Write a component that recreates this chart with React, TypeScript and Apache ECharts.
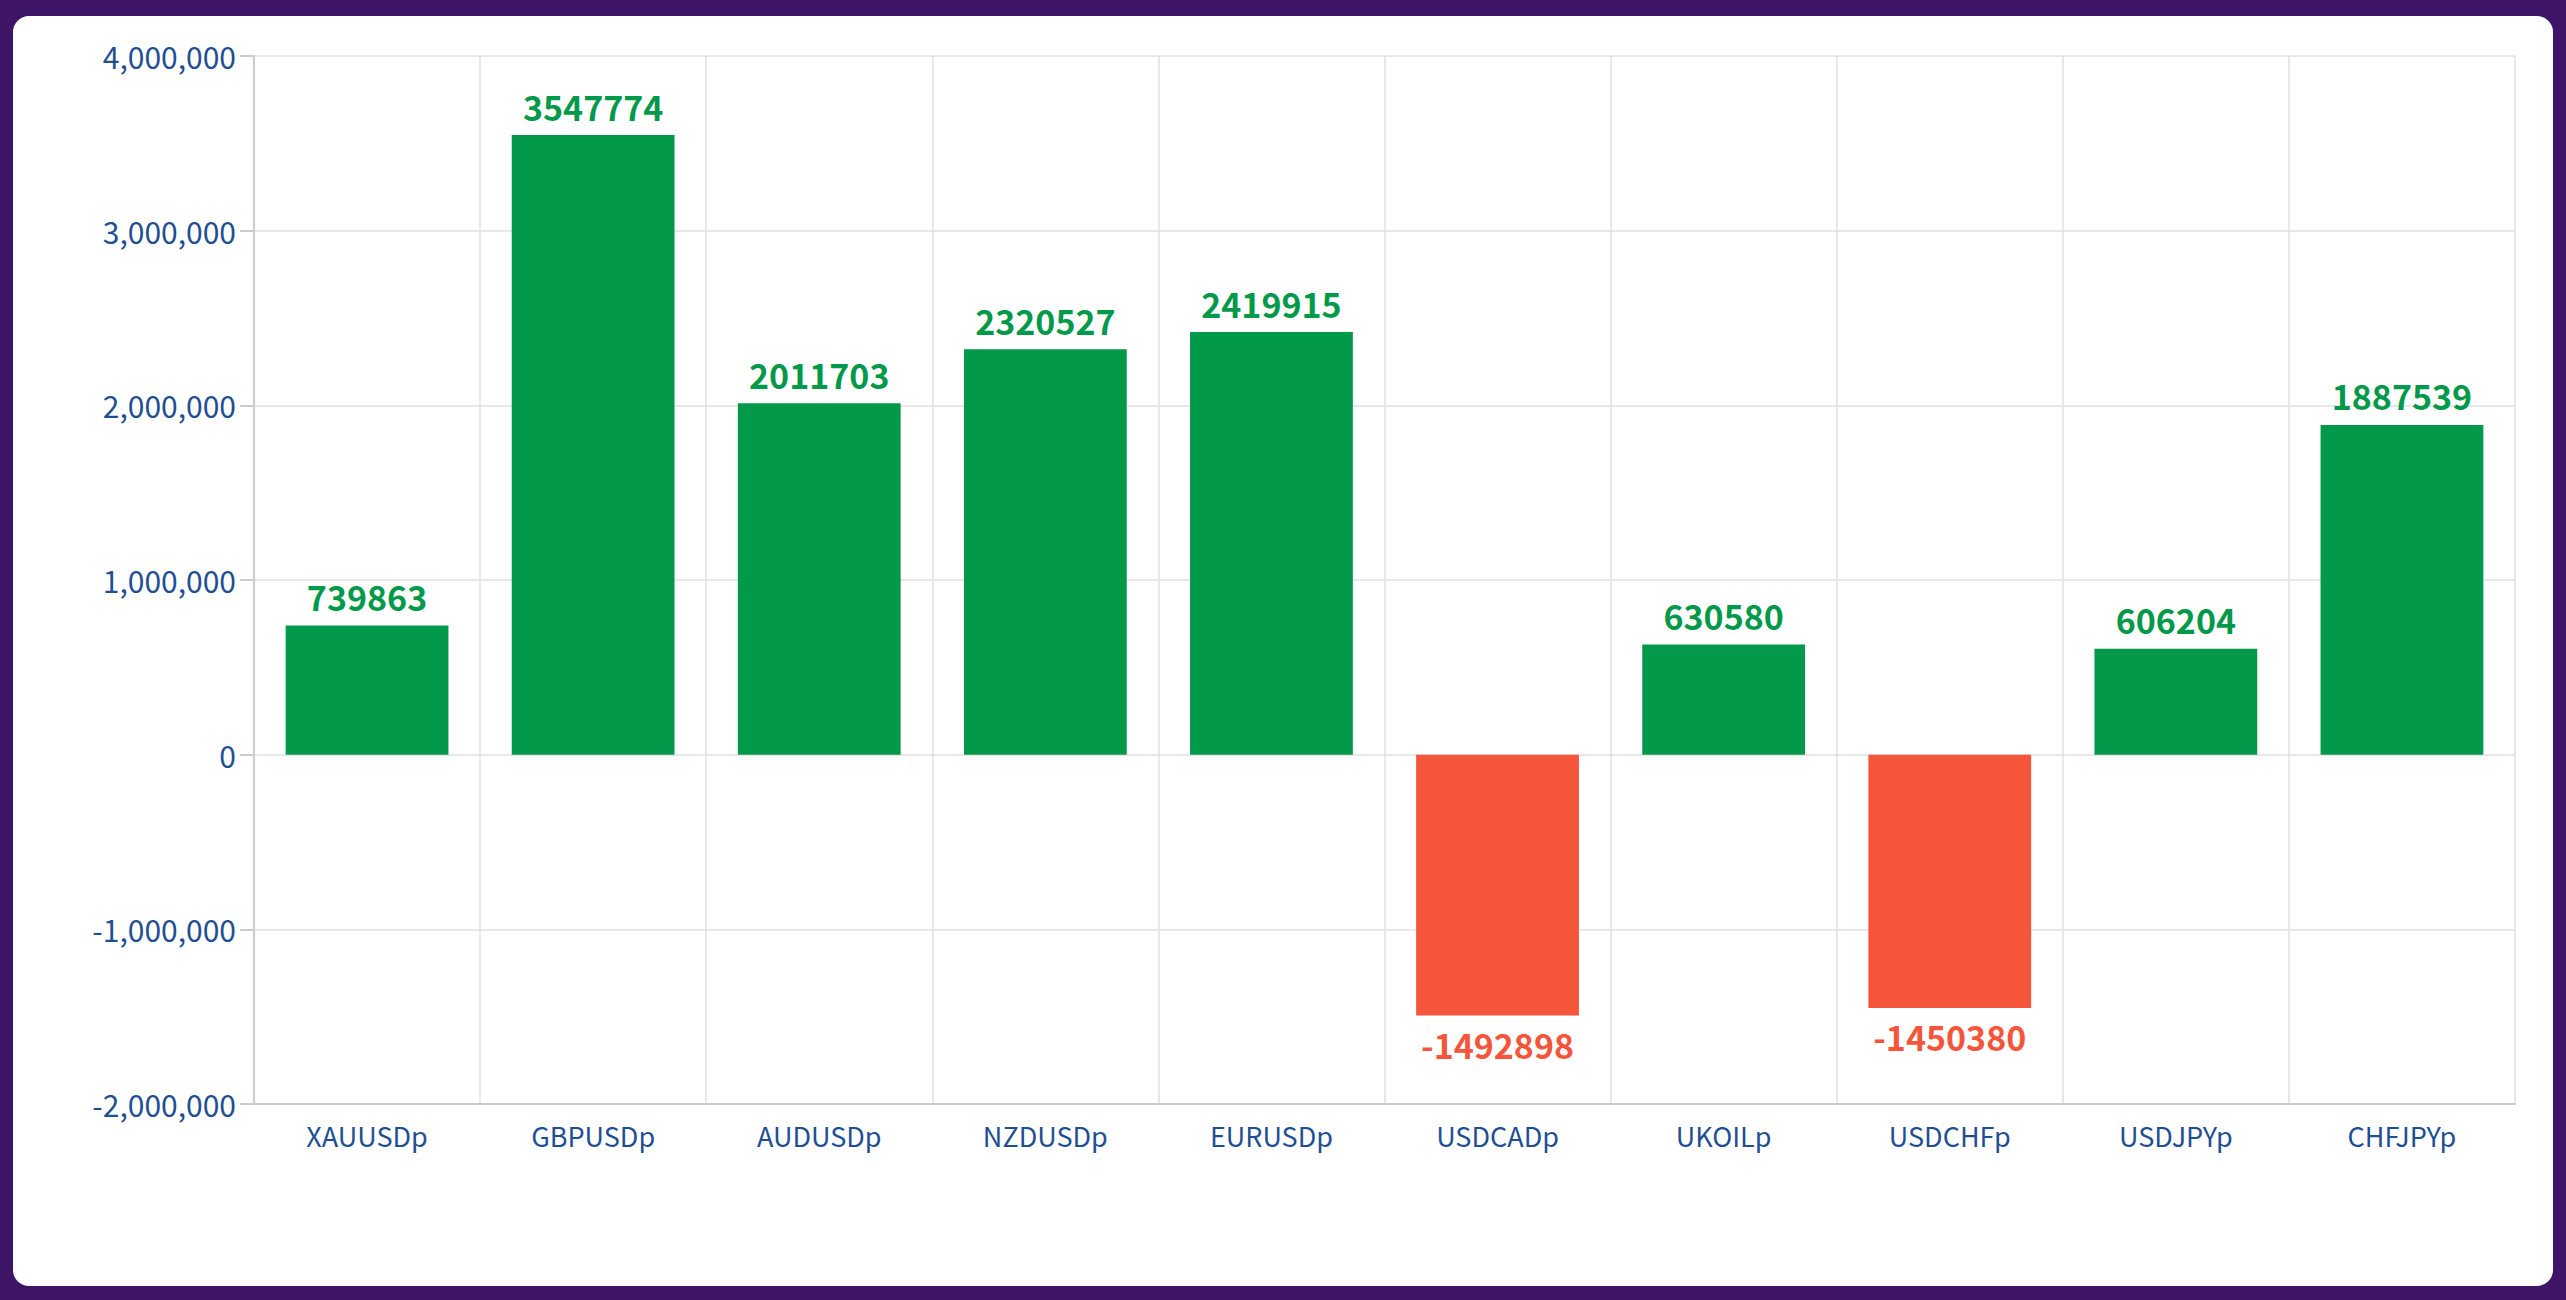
import * as echarts from "echarts";
import React, { useEffect, useRef } from "react";

const symbols = ["XAUUSDp", "GBPUSDp", "AUDUSDp", "NZDUSDp", "EURUSDp", "USDCADp", "UKOILp", "USDCHFp", "USDJPYp", "CHFJPYp"];
const profits = [739863, 3547774, 2011703, 2320527, 2419915, -1492898, 630580, -1450380, 606204, 1887539];

const GREEN = "#03994a";
const RED = "#f5553b";
const FONT = "'Noto Sans CJK JP', 'Noto Sans', sans-serif";

const App: React.FC = () => {
  const chartRef = useRef<HTMLDivElement | null>(null);

  useEffect(() => {
    document.body.style.margin = "0";
    if (!chartRef.current) return;
    const chart = echarts.init(chartRef.current, undefined, { renderer: "svg" });
    const option: echarts.EChartsOption = {
      animation: false,
      grid: { left: 254, right: 51, top: 56, bottom: 196 },
      xAxis: {
        type: "category",
        data: symbols,
        axisLine: { onZero: false, lineStyle: { color: "#cccccc", width: 2 } },
        axisTick: { length: 14, lineStyle: { color: "#cccccc", width: 2 } },
        axisLabel: { color: "#1f4f93", fontSize: 27, fontFamily: FONT, margin: 18 },
        splitLine: { show: true, lineStyle: { color: "#e0e0e0", width: 1.5 } },
      },
      yAxis: {
        type: "value",
        min: -2000000,
        max: 4000000,
        interval: 1000000,
        axisLine: { show: true, lineStyle: { color: "#cccccc", width: 2 } },
        axisTick: { show: true, length: 14, lineStyle: { color: "#cccccc", width: 2 } },
        axisLabel: {
          color: "#1f4f93",
          fontSize: 30,
          fontFamily: FONT,
          margin: 18,
          formatter: (v: number) => v.toLocaleString("en-US"),
        },
        splitLine: { lineStyle: { color: "#e0e0e0", width: 1.5 } },
      },
      series: [
        {
          type: "bar",
          barWidth: "72%",
          data: profits.map((v) => ({
            value: v,
            itemStyle: { color: v >= 0 ? GREEN : RED },
            label: { position: v >= 0 ? "top" : "bottom", color: v >= 0 ? GREEN : RED },
          })),
          label: {
            show: true,
            fontSize: 34,
            fontWeight: "bold",
            fontFamily: FONT,
            distance: 12,
          },
        },
      ],
    };
    chart.setOption(option);
    return () => chart.dispose();
  }, []);

  return (
    <div style={{ width: 2566, height: 1300, background: "#3d1466", position: "relative", overflow: "hidden" }}>
      <div style={{ position: "absolute", left: 13, top: 16, width: 2540, height: 1270, background: "#ffffff", borderRadius: 16 }} />
      <div ref={chartRef} style={{ position: "absolute", left: 0, top: 0, width: 2566, height: 1300 }} />
    </div>
  );
};

export default App;
